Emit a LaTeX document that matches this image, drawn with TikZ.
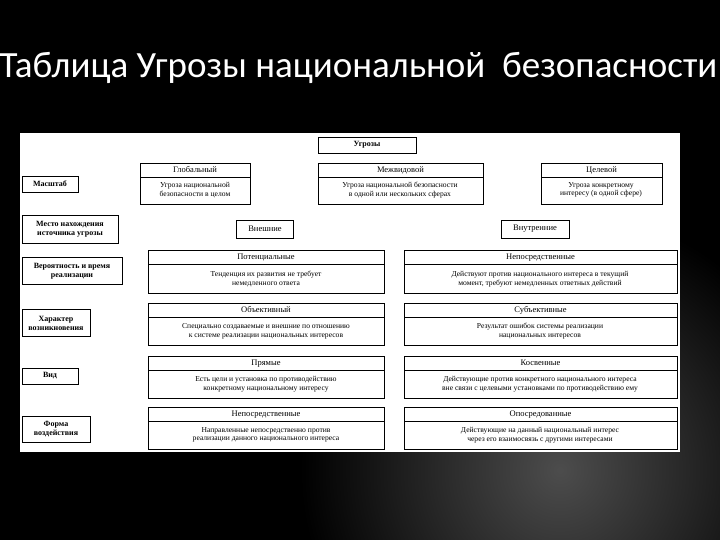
\documentclass[tikz,border=0pt]{standalone}
\usepackage{fontspec}
\setmainfont{Liberation Serif}
\newfontfamily\titlefont{Carlito}
\begin{document}
\begin{tikzpicture}[x=1pt,y=-1pt,
 lab/.style={draw=black,line width=0.8pt,fill=white,align=center,font=\fontsize{8}{9}\selectfont\bfseries,inner sep=1pt},
 hd/.style={draw=black,line width=0.6pt,fill=white,align=center,font=\fontsize{8.5}{9}\selectfont,inner sep=0pt},
 bd/.style={align=center,font=\fontsize{7.6}{8.6}\selectfont,inner sep=0pt}]
\useasboundingbox (0,0) rectangle (720,540);
\fill[black] (0,0) rectangle (720,540);
\shade[inner color=gray!60!black, outer color=black] (560,470) circle (260);
\fill[black,opacity=0.5] (0,0) rectangle (720,130);
\node[text=white,anchor=west,font=\titlefont\fontsize{37}{38}\selectfont] (title) at (-4,68) {Таблица Угрозы национальной \ безопасности};
\fill[white] (20,133) rectangle (680,452);
\newcommand\tbox[6]{% name x1 y1 x2 y2 header
 \draw[line width=0.6pt] (#2,#3) rectangle (#4,#5);
 \draw[line width=0.6pt] (#2,#3+14) -- (#4,#3+14);
 \node[bd,font=\fontsize{8.5}{9}\selectfont,text height=6pt,text depth=1.5pt] (#1h) at ({(#2+#4)/2},#3+7.5) {#6};}
\newcommand\tbody[4]{\node[bd] (#1b) at (#2,#3) {#4};}
\node[lab,minimum width=98pt,minimum height=16pt] (ugr) at (367,145) {Угрозы};
\node[lab,minimum width=56pt,minimum height=16pt] (m) at (50,184) {Масштаб};
\tbox{g}{140}{163}{250}{204}{Глобальный}\tbody{g}{195}{190}{Угроза национальной\\безопасности в целом}
\tbox{mv}{318}{163}{483}{204}{Межвидовой}\tbody{mv}{400}{190}{Угроза национальной безопасности\\в одной или нескольких сферах}
\tbox{c}{541}{163}{662}{204}{Целевой}\tbody{c}{601}{190}{Угроза конкретному\\интересу (в одной сфере)}
\node[lab,minimum width=96pt,minimum height=28pt] (mn) at (70,229) {Место нахождения\\источника угрозы};
\node[hd,minimum width=57pt,minimum height=18pt] (vn) at (265,229) {Внешние};
\node[hd,minimum width=68pt,minimum height=18pt] (vt) at (535,229) {Внутренние};
\node[lab,minimum width=100pt,minimum height=27pt] (vr) at (72,271) {Вероятность и время\\реализации};
\tbox{p}{148}{250}{384}{293}{Потенциальные}\tbody{p}{266}{279}{Тенденция их развития не требует\\немедленного ответа}
\tbox{n}{404}{250}{677}{293}{Непосредственные}\tbody{n}{540}{279}{Действуют против национального интереса в текущий\\момент, требуют немедленных ответных действий}
\node[lab,minimum width=68pt,minimum height=27pt] (hv) at (56,323) {Характер\\возникновения};
\tbox{o}{148}{303}{384}{345}{Объективный}\tbody{o}{266}{331}{Специально создаваемые и внешние по отношению\\к системе реализации национальных интересов}
\tbox{s}{404}{303}{677}{345}{Субъективные}\tbody{s}{540}{331}{Результат ошибок системы реализации\\национальных интересов}
\node[lab,minimum width=56pt,minimum height=16pt] (vid) at (50,376) {Вид};
\tbox{pr}{148}{356}{384}{398}{Прямые}\tbody{pr}{266}{384}{Есть цели и установка по противодействию\\конкретному национальному интересу}
\tbox{k}{404}{356}{677}{398}{Косвенные}\tbody{k}{540}{384}{Действующие против конкретного национального интереса\\вне связи с целевыми установками по противодействию ему}
\node[lab,minimum width=68pt,minimum height=26pt] (fv) at (56,429) {Форма\\воздействия};
\tbox{np}{148}{407}{384}{449}{Непосредственные}\tbody{np}{266}{435}{Направленные непосредственно против\\реализации данного национального интереса}
\tbox{op}{404}{407}{677}{449}{Опосредованные}\tbody{op}{540}{435}{Действующие на данный национальный интерес\\через его взаимосвязь с другими интересами}
\end{tikzpicture}
\end{document}
